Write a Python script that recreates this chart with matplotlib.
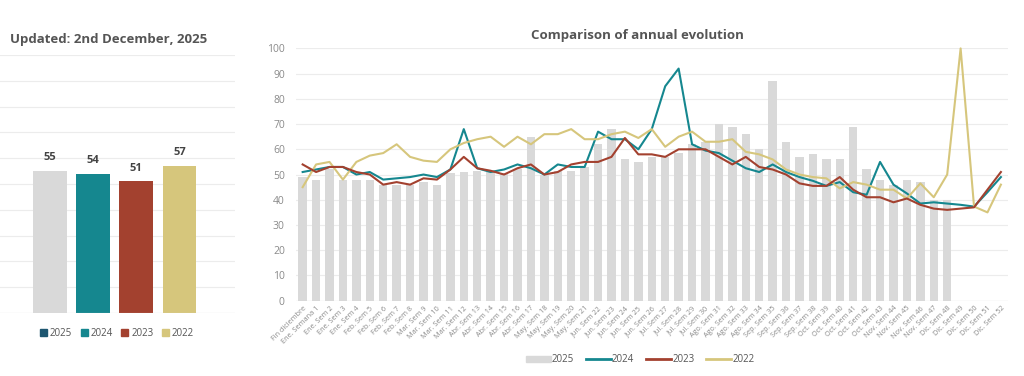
import numpy as np
import matplotlib
matplotlib.use("Agg")
import matplotlib.pyplot as plt
from matplotlib.patches import Patch
from matplotlib.lines import Line2D

plt.rcParams['font.family'] = ['Open Sans', 'DejaVu Sans']

# Data
years = ['2025', '2024', '2023', '2022']
year_avg = [55, 54, 51, 57]

weeks = ['Fin diciembre', 'Ene. Semana 1', 'Ene. Sem 2', 'Ene. Sem 3', 'Ene. Sem 4',
         'Feb. Sem 5', 'Feb. Sem 6', 'Feb. Sem 7', 'Feb. Sem 8',
         'Mar. Sem 9', 'Mar. Sem 10', 'Mar. Sem 11', 'Mar. Sem 12',
         'Abr. Sem 13', 'Abr. Sem 14', 'Abr. Sem 15', 'Abr. Sem 16', 'Abr. Sem 17',
         'May. Sem 18', 'May. Sem 19', 'May. Sem 20', 'May. Sem 21',
         'Jun. Sem 22', 'Jun. Sem 23', 'Jun. Sem 24', 'Jun. Sem 25', 'Jun. Sem 26',
         'Jul. Sem 27', 'Jul. Sem 28', 'Jul. Sem 29', 'Jul. Sem 30',
         'Ago. Sem 31', 'Ago. Sem 32', 'Ago. Sem 33', 'Ago. Sem 34',
         'Sep. Sem 35', 'Sep. Sem 36', 'Sep. Sem 37', 'Sep. Sem 38',
         'Oct. Sem 39', 'Oct. Sem 40', 'Oct. Sem 41', 'Oct. Sem 42', 'Oct. Sem 43',
         'Nov. Sem 44', 'Nov. Sem 45', 'Nov. Sem 46', 'Nov. Sem 47',
         'Dic. Sem 48', 'Dic. Sem 49', 'Dic. Sem 50', 'Dic. Sem 51', 'Dic. Sem 52']

v2025 = [49, 48, 52, 48, 48, 48, 46, 46, 46, 47, 46, 50.5, 51,
         51.5, 51, 50.5, 52, 65, 50, 51.5, 51.5, 53, 62, 68, 56, 55, 57,
         57, 58.5, 62, 63, 70, 69, 66, 60, 87, 63, 57, 58, 56, 56, 69, 52,
         48, 46, 48, 47, 40, 40]
v2024 = [51, 52, 53, 53, 50, 51, 48, 48.5, 49, 50, 49, 52, 68,
         52.5, 51, 52, 54, 52.5, 50, 54, 53, 53, 67, 64, 64, 60, 68,
         85, 92, 62, 59.5, 58.5, 55.5, 52.5, 51, 54, 51, 49, 47.5, 45.5, 47, 43, 42,
         55, 46, 42.5, 38.5, 39, 38.5, 38, 37.3, 43, 49]
v2023 = [54, 51, 53, 53, 51, 50, 46, 47, 46, 48.5, 48, 52, 57,
         52.5, 51.5, 50, 52.5, 54, 50, 51, 54, 55, 55, 57, 64.5, 58, 58,
         57, 60, 60, 60, 57, 54, 57, 53, 52, 50, 46.5, 45.5, 45.5, 49, 44, 41,
         41, 39, 40.5, 38, 36.5, 36, 36.5, 37, 44, 51]
v2022 = [45, 54, 55, 48, 55, 57.5, 58.5, 62, 57, 55.5, 55, 60, 62.5,
         64, 65, 61, 65, 62, 66, 66, 68, 64, 64, 66, 67, 64.5, 68,
         61, 65, 67, 63, 63, 64, 59, 58, 56, 52, 50, 49, 48.5, 44.5, 47, 46,
         44, 44, 40.5, 46.5, 41, 50, 100, 37.3, 35, 46]

c2025 = '#d9d9d9'
c2025_leg = '#1d5670'
c2024 = '#15878f'
c2023 = '#a3412f'
c2022 = '#d6c67c'
grid_c = '#ececec'
txt = '#555555'
tick_c = '#8a8a8a'

fig = plt.figure(figsize=(10.24, 3.76), dpi=100)

# Left panel: yearly average
ax1 = fig.add_axes([0.0, 0.1676, 0.2295, 0.686])
xl = np.arange(len(years))
ax1.bar(xl, year_avg, width=0.78, color=[c2025, c2024, c2023, c2022], zorder=2)
for xi, v in zip(xl, year_avg):
    ax1.text(xi, v + 3, str(v), ha='center', va='bottom', fontsize=8,
             fontweight='bold', color='#444444')
ax1.set_xlim(-1.15, 4.28)
ax1.set_ylim(0, 100)
ax1.set_yticks(np.arange(0, 101, 10))
ax1.yaxis.grid(True, color=grid_c, linewidth=0.8, zorder=0)
ax1.set_xticks([])
ax1.tick_params(axis='y', length=0, labelleft=False)
for s in ax1.spines.values():
    s.set_visible(False)
ax1.axhline(0, color='#e0e0e0', linewidth=0.8)

fig.text(10 / 1024, 1 - 40 / 376, 'Updated: 2nd December, 2025', fontsize=9.5,
         fontweight='bold', color=txt, va='center', ha='left')

h1 = [Patch(color=c) for c in [c2025_leg, c2024, c2023, c2022]]
fig.legend(h1, years, loc='center', bbox_to_anchor=(117 / 1024, 1 - 333 / 376),
           ncol=4, frameon=False, fontsize=7, handlelength=0.7, handleheight=0.7,
           handletextpad=0.3, columnspacing=0.9, labelcolor=txt)

# Right panel: weekly evolution
ax2 = fig.add_axes([0.289, 0.2003, 0.695, 0.671])
xw = np.arange(len(weeks))
ax2.bar(np.arange(len(v2025)), v2025, width=0.63, color=c2025, zorder=2)
ax2.plot(xw, v2024, color=c2024, linewidth=1.5, zorder=3, clip_on=False)
ax2.plot(xw, v2023, color=c2023, linewidth=1.5, zorder=4, clip_on=False)
ax2.plot(xw, v2022, color=c2022, linewidth=1.5, zorder=3, clip_on=False)
ax2.set_xlim(-0.5, len(weeks) - 0.5)
ax2.set_ylim(0, 100)
ax2.set_yticks(np.arange(0, 101, 10))
ax2.yaxis.grid(True, color=grid_c, linewidth=0.8, zorder=0)
ax2.set_axisbelow(True)
ax2.set_xticks(xw)
ax2.set_xticklabels(weeks, rotation=45, ha='right', rotation_mode='anchor',
                    fontsize=5.2, color=tick_c)
ax2.tick_params(axis='x', length=0, pad=3)
ax2.tick_params(axis='y', length=0, labelsize=7.5, labelcolor=tick_c, pad=8)
for s in ax2.spines.values():
    s.set_visible(False)
ax2.axhline(0, color='#d8d8d8', linewidth=0.8)

fig.text(637 / 1024, 1 - 35 / 376, 'Comparison of annual evolution', fontsize=9.5,
         fontweight='bold', color=txt, va='center', ha='center')

h2 = [Patch(color=c2025),
      Line2D([0], [0], color=c2024, linewidth=2),
      Line2D([0], [0], color=c2023, linewidth=2),
      Line2D([0], [0], color=c2022, linewidth=2)]
fig.legend(h2, years, loc='center', bbox_to_anchor=(640 / 1024, 1 - 360 / 376),
           ncol=4, frameon=False, fontsize=7, handlelength=2.6, handleheight=0.5,
           handletextpad=0.1, columnspacing=1.2, labelcolor=txt)

fig.savefig('out.png', dpi=100, facecolor='white')
